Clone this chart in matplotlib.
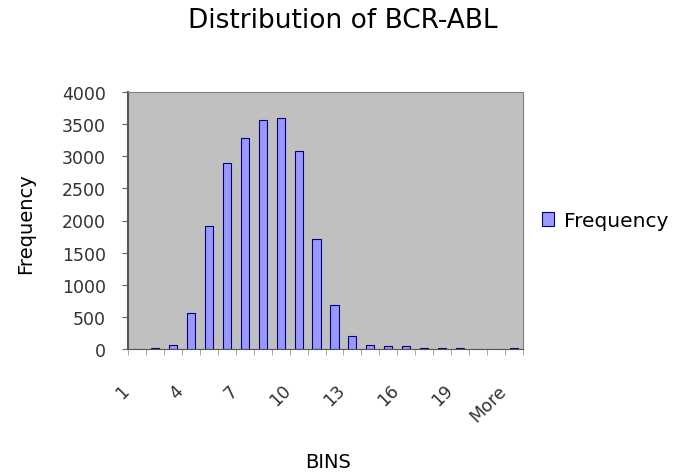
import matplotlib.pyplot as plt
import matplotlib.transforms as mtransforms
import numpy as np

bins = [str(i) for i in range(1, 22)] + ["More"]
frequency = [5, 20, 60, 560, 1920, 2900, 3280, 3570, 3600, 3080, 1710, 680,
             200, 60, 40, 40, 20, 10, 10, 5, 5, 10]
y_ticks = [0, 500, 1000, 1500, 2000, 2500, 3000, 3500, 4000]

plt.rcParams["font.family"] = ["DejaVu Sans"]

fig = plt.figure(figsize=(6.91, 4.77), dpi=100)
ax = fig.add_axes([128 / 691, 1 - 350 / 477, 395 / 691, 257 / 477])
ax.set_facecolor("#C0C0C0")

x = np.arange(len(bins))
ax.bar(x, frequency, width=0.45, color="#9999FF", edgecolor="#000080",
       linewidth=0.8, label="Frequency")

ax.set_xlim(-0.5, len(bins) - 0.5)
ax.set_ylim(0, 4000)
ax.set_yticks(y_ticks)
ax.set_yticklabels([str(v) for v in y_ticks], fontsize=12.5, color="#333333")
ax.tick_params(axis="y", length=4, pad=12, color="#666666")

ax.set_xticks(x[::3])
ax.set_xticklabels(bins[::3], rotation=45, ha="right", rotation_mode="anchor",
                   fontsize=12.5, color="#333333")
ax.set_xticks(np.arange(-0.5, len(bins), 1), minor=True)
ax.tick_params(axis="x", which="major", length=0, pad=23)
ax.tick_params(axis="x", which="minor", length=4, direction="out",
               color="#999999")
shift = mtransforms.ScaledTranslation(-12 / 72, 0, fig.dpi_scale_trans)
for lbl in ax.get_xticklabels():
    lbl.set_transform(lbl.get_transform() + shift)

for side in ["top", "right"]:
    ax.spines[side].set_color("#808080")
ax.spines["left"].set_color("#555555")
ax.spines["left"].set_linewidth(1.5)
ax.spines["bottom"].set_color("#555555")

fig.text(343 / 691, 1 - 21 / 477, "Distribution of BCR-ABL", fontsize=19,
         ha="center", va="center")
ax.set_xlabel("BINS", fontsize=14)
ax.xaxis.set_label_coords(0.506, -0.40)
ax.set_ylabel("Frequency", fontsize=14)
ax.yaxis.set_label_coords(-0.235, 0.49)

ax.legend(loc="center left", bbox_to_anchor=((542 - 128) / 395, 0.5),
          frameon=False, fontsize=14.5, handlelength=0.6, handleheight=0.7,
          handletextpad=0.5, borderaxespad=0, borderpad=0)

fig.savefig("out.png", dpi=100)
